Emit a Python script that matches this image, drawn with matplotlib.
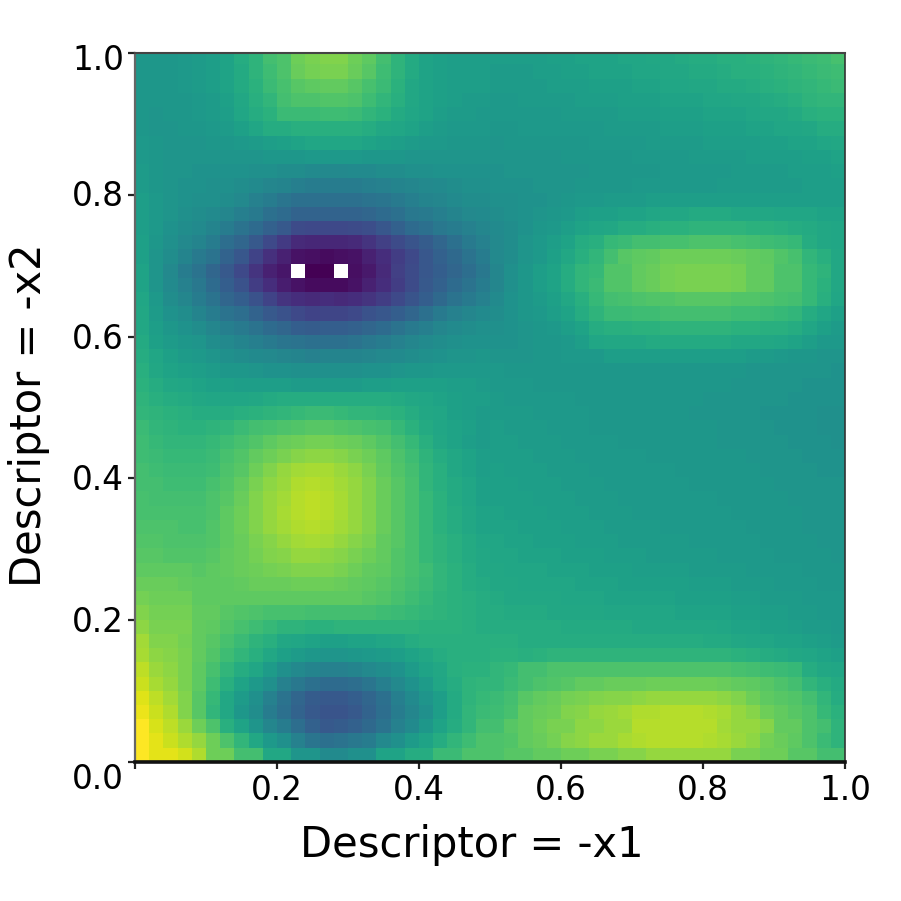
import numpy as np
import matplotlib
matplotlib.use("Agg")
import matplotlib.pyplot as plt
from matplotlib.transforms import ScaledTranslation

n = np.nan
row_00 = [53,53,53,54,55,56,58,62,65,70,72,78,80,81,81,78,75,70,65,61,58,57,56,56,56,56,56,56,56,57,57,58,58,58,59,59,60,60,61,62,62,63,63,64,65,66,67,68,69,71]
row_01 = [53,53,53,54,55,56,58,61,65,69,72,77,79,80,80,77,74,69,65,61,58,57,56,56,56,55,55,55,56,56,57,57,58,58,58,59,59,60,60,61,61,62,63,63,64,65,66,67,68,69]
row_02 = [53,53,53,54,55,56,58,61,64,68,71,74,75,76,76,74,71,68,64,60,58,57,56,56,56,55,55,55,55,56,56,56,57,57,57,58,58,59,59,60,60,61,61,62,63,64,65,66,67,68]
row_03 = [53,53,53,53,54,55,57,60,63,66,70,72,72,73,73,72,69,66,63,60,58,57,56,55,55,54,54,55,55,55,55,56,56,56,57,57,57,58,58,58,59,59,60,60,61,62,63,65,66,66]
row_04 = [53,52,53,53,54,55,56,59,62,64,68,68,68,69,69,68,66,64,61,59,58,56,55,55,54,54,54,54,54,54,55,55,55,55,56,56,56,57,57,57,58,58,58,59,60,60,61,63,64,64]
row_05 = [53,52,52,53,53,54,55,57,59,62,62,63,63,63,63,63,62,60,59,58,56,55,54,54,54,53,53,54,54,54,54,54,54,55,55,55,55,56,56,56,57,57,57,58,58,59,59,60,62,62]
row_06 = [54,53,52,52,52,53,53,54,55,56,57,58,59,59,59,59,58,57,56,55,54,54,53,53,53,52,53,53,53,53,53,53,54,54,54,54,55,55,55,55,56,56,56,56,57,57,58,58,59,60]
row_07 = [54,53,52,52,52,52,52,52,52,53,53,53,54,54,54,54,53,53,53,52,52,52,52,52,52,52,52,52,52,52,53,53,53,53,53,54,54,54,54,55,55,55,55,56,56,56,56,57,57,58]
row_08 = [55,53,52,52,51,51,51,51,50,50,49,49,48,47,47,48,48,49,49,50,50,51,51,51,51,51,52,52,52,52,52,52,53,53,53,53,53,54,54,54,54,54,55,55,55,55,56,56,56,57]
row_09 = [55,53,52,51,51,50,50,49,48,46,45,43,42,42,42,42,43,44,45,46,47,48,49,50,50,51,51,51,52,52,52,53,53,53,53,54,54,54,54,54,54,55,55,55,55,55,55,56,56,56]
row_10 = [56,54,52,51,50,50,49,47,44,42,39,37,37,37,37,37,38,39,41,43,45,46,48,49,49,50,50,51,51,52,53,54,54,55,55,55,56,56,56,56,56,56,56,56,56,56,56,56,56,56]
row_11 = [56,54,52,50,49,48,46,43,41,37,35,32,32,32,32,32,33,35,37,40,41,43,45,47,48,49,50,51,52,53,54,56,57,57,58,58,59,60,60,61,61,61,60,60,60,59,59,59,58,58]
row_12 = [56,54,51,49,48,45,42,38,35,31,28,23,22,22,22,23,24,27,31,35,37,40,42,44,46,48,49,51,53,54,56,58,59,60,62,62,63,64,64,65,65,65,65,64,64,63,62,61,60,59]
row_13 = [57,53,50,47,45,42,36,33,28,22,17,12,11,11,11,12,15,19,23,26,29,33,37,41,44,47,49,52,54,56,58,62,63,67,68,70,70,71,71,72,72,72,71,70,69,68,67,62,60,59]
row_14 = [57,52,49,45,41,38,32,27,20,14,9,5,4,3,4,5,9,13,18,22,27,31,34,38,42,47,49,52,54,57,60,63,66,70,74,75,76,78,78,78,78,78,77,76,75,73,71,66,63,60]
row_15 = [58,52,47,42,38,33,28,22,15,9,6,n,0,0,n,4,7,12,19,23,27,30,33,36,40,46,50,53,56,58,62,66,67,73,73,76,77,79,80,80,80,80,79,76,76,72,72,67,65,60]
row_16 = [58,52,48,44,40,35,30,25,18,13,8,5,3,3,3,5,9,13,18,23,28,31,35,38,42,46,50,53,56,58,62,66,68,73,73,76,77,79,80,80,80,80,79,76,76,72,72,67,64,60]
row_17 = [59,54,49,46,42,38,33,30,25,20,15,13,12,13,12,13,15,18,22,26,30,34,38,41,44,48,51,53,55,57,60,63,67,70,71,72,73,73,74,74,74,74,73,73,72,71,70,67,63,59]
row_18 = [60,55,51,49,45,42,38,36,32,28,25,22,20,21,21,22,25,27,30,33,37,41,44,46,48,49,51,53,54,56,58,62,65,68,68,69,69,70,70,70,70,70,69,69,68,67,66,62,59,57]
row_19 = [60,56,53,51,49,46,43,41,38,35,33,30,29,30,30,31,33,35,38,41,43,46,48,49,50,50,51,52,53,54,56,58,62,63,63,64,64,65,65,65,65,65,64,64,63,63,62,59,57,55]
row_20 = [61,57,55,53,52,49,47,45,43,41,39,38,37,37,37,38,40,42,44,46,48,49,50,51,51,51,51,52,53,53,54,56,59,60,60,60,61,61,61,61,61,61,60,60,60,59,58,56,54,54]
row_21 = [62,59,57,55,54,52,50,49,48,47,46,45,44,45,45,45,46,47,48,49,50,51,52,52,53,52,52,52,53,53,54,54,54,56,56,56,56,56,56,56,56,56,56,55,55,54,53,53,52,52]
row_22 = [63,60,58,57,56,55,53,53,52,51,51,50,50,50,50,50,51,51,52,53,53,54,54,54,54,54,53,53,53,53,53,53,53,53,53,53,53,53,53,53,53,53,53,52,52,52,52,52,52,51]
row_23 = [64,62,60,59,58,57,57,56,56,56,56,55,55,55,55,55,56,56,57,57,57,57,56,56,55,54,54,54,53,53,53,53,53,53,53,53,53,53,53,53,53,53,52,52,52,52,52,51,51,51]
row_24 = [65,63,62,61,60,59,59,59,60,61,62,62,62,62,62,62,62,62,61,60,59,58,57,56,56,55,54,54,54,54,54,53,53,53,53,53,53,53,53,53,52,52,52,52,52,52,51,51,51,51]
row_25 = [66,65,64,63,62,62,62,63,64,65,66,67,68,68,67,66,66,65,64,62,60,59,57,56,55,55,55,55,54,54,54,54,53,53,53,53,53,53,53,52,52,52,52,52,51,51,51,51,50,50]
row_26 = [68,66,65,64,64,65,66,68,70,71,72,73,74,74,73,72,71,70,67,64,61,59,58,57,55,56,55,55,55,54,54,54,53,53,53,53,53,53,53,53,53,52,52,52,52,51,51,51,50,50]
row_27 = [69,67,66,66,66,67,69,71,73,75,77,78,79,79,78,77,75,73,70,67,63,60,58,56,55,56,56,55,55,55,54,54,54,54,53,53,53,53,53,53,53,52,52,52,52,52,51,51,51,50]
row_28 = [69,68,67,67,67,68,71,73,76,78,80,82,83,83,82,80,78,75,72,69,65,62,60,58,56,56,56,56,55,55,55,54,54,54,54,54,53,53,53,53,53,53,53,52,52,52,52,51,51,51]
row_29 = [70,69,68,68,68,69,72,74,78,81,84,86,87,87,85,83,80,76,73,70,66,63,60,58,56,57,56,56,56,55,55,55,54,54,54,54,54,54,53,53,53,53,53,53,52,52,52,52,51,51]
row_30 = [70,70,69,69,69,71,73,76,80,83,85,88,89,88,86,84,81,77,74,71,66,63,61,59,57,57,57,56,56,56,55,55,55,54,54,54,54,54,54,53,53,53,53,53,53,52,52,52,52,52]
row_31 = [71,70,70,70,70,72,74,77,81,84,86,89,90,89,87,84,81,77,74,71,67,64,61,59,57,57,57,57,56,56,56,55,55,55,54,54,54,54,54,54,54,53,53,53,53,53,52,52,52,52]
row_32 = [71,71,71,71,71,72,75,78,81,84,87,89,90,89,87,84,81,77,74,71,67,64,62,60,58,58,57,57,57,56,56,56,55,55,55,54,54,54,54,54,54,54,53,53,53,53,53,52,52,52]
row_33 = [72,72,72,71,71,73,75,78,81,84,86,88,89,88,86,84,81,77,74,71,67,64,62,60,58,58,58,57,57,57,56,56,56,55,55,55,55,54,54,54,54,54,54,53,53,53,53,52,52,52]
row_34 = [73,73,72,72,72,73,75,77,80,82,84,86,87,86,84,82,80,76,74,71,67,65,63,61,59,59,58,58,57,57,57,56,56,56,55,55,55,55,55,54,54,54,54,54,53,53,53,53,52,52]
row_35 = [74,74,73,73,73,74,76,77,79,81,82,84,84,83,82,80,78,76,73,71,67,65,63,61,60,59,59,58,58,58,57,57,57,56,56,56,55,55,55,55,55,54,54,54,54,53,53,53,53,52]
row_36 = [75,75,75,75,74,75,76,77,78,79,80,81,81,81,80,78,76,75,73,71,69,66,64,62,60,60,59,59,59,58,58,58,57,57,57,56,56,56,56,55,55,55,55,54,54,54,54,53,53,53]
row_37 = [77,77,77,76,75,75,75,76,77,77,77,78,78,78,77,76,75,74,72,70,68,66,64,62,61,60,60,59,59,59,59,58,58,58,57,57,57,57,57,56,56,56,55,55,55,54,54,54,53,53]
row_38 = [79,78,78,78,75,75,75,75,75,75,75,75,75,75,75,75,74,73,71,69,67,65,64,63,62,61,60,60,60,60,59,59,59,58,58,58,58,58,57,57,57,57,56,56,55,55,55,54,54,54]
row_39 = [81,79,79,79,76,76,74,73,72,71,71,71,70,70,70,70,70,69,68,67,66,65,64,63,62,62,61,61,61,60,60,60,60,59,59,59,59,59,58,58,58,58,57,57,56,56,55,55,54,54]
row_40 = [83,80,80,80,76,75,73,71,69,67,65,65,64,64,65,65,65,65,65,65,64,64,64,63,62,62,62,62,62,62,61,61,61,61,61,60,60,60,60,60,60,59,58,58,57,57,56,55,55,54]
row_41 = [86,81,81,79,76,74,71,68,65,63,60,59,58,57,57,58,58,59,60,62,63,63,63,63,63,63,63,62,62,62,62,62,62,62,62,62,62,62,62,62,61,61,60,59,59,58,58,57,56,55]
row_42 = [87,83,82,80,76,73,69,66,63,60,57,55,53,52,52,53,54,55,56,58,60,62,63,63,63,64,64,63,64,65,65,65,65,65,65,65,65,65,65,65,65,65,64,63,62,61,60,59,58,57]
row_43 = [90,85,83,80,75,71,66,62,59,55,50,47,45,44,44,45,47,49,51,55,58,60,63,64,64,66,67,70,70,72,72,72,72,72,72,72,72,72,72,72,72,72,71,70,69,68,67,62,60,59]
row_44 = [92,87,84,80,75,69,63,58,54,50,44,40,37,35,35,36,39,43,47,51,55,59,62,65,66,66,68,70,72,73,74,76,76,77,77,77,78,78,78,78,78,77,76,75,74,72,70,66,63,61]
row_45 = [95,90,86,81,74,67,60,55,50,44,38,33,29,28,28,30,33,37,43,48,52,56,61,65,67,68,70,74,76,77,79,80,81,82,82,83,84,84,84,84,84,83,81,78,75,74,73,70,66,62]
row_46 = [97,92,88,81,74,66,60,53,49,42,37,32,28,26,26,28,32,36,42,46,50,56,61,66,68,69,71,76,77,78,81,82,84,85,86,88,88,89,89,89,88,87,84,82,78,76,74,72,67,64]
row_47 = [100,94,90,85,78,72,63,58,52,46,42,36,31,28,29,31,34,38,44,48,53,58,62,66,70,70,74,76,78,80,80,83,83,85,85,89,89,89,89,89,89,86,84,84,82,76,76,72,70,65]
row_48 = [100,96,92,88,84,78,72,66,60,54,50,44,39,37,38,40,42,47,50,55,58,62,66,69,72,72,73,76,77,79,82,83,85,85,87,88,89,89,89,89,88,87,85,83,79,77,75,72,68,65]
row_49 = [100,96,96,93,88,78,78,70,70,60,60,52,52,48,48,50,50,58,58,62,62,68,68,72,72,72,74,74,76,76,78,78,80,80,82,82,84,84,84,84,84,84,80,80,78,78,74,74,70,70]

rows = [row_00,row_01,row_02,row_03,row_04,row_05,row_06,row_07,row_08,row_09,
        row_10,row_11,row_12,row_13,row_14,row_15,row_16,row_17,row_18,row_19,
        row_20,row_21,row_22,row_23,row_24,row_25,row_26,row_27,row_28,row_29,
        row_30,row_31,row_32,row_33,row_34,row_35,row_36,row_37,row_38,row_39,
        row_40,row_41,row_42,row_43,row_44,row_45,row_46,row_47,row_48,row_49]

x_ticks = [0.0, 0.2, 0.4, 0.6, 0.8, 1.0]
x_labels = ["", "0.2", "0.4", "0.6", "0.8", "1.0"]
y_ticks = [0.0, 0.2, 0.4, 0.6, 0.8, 1.0]
y_labels = ["0.0", "0.2", "0.4", "0.6", "0.8", "1.0"]

W = 901
fig = plt.figure(figsize=(W / 100, W / 100), dpi=100)
ax = fig.add_axes([135 / W, 1 - 762 / W, 710 / W, 709 / W])
cmap = plt.get_cmap("viridis").copy()
cmap.set_bad("white")
ax.imshow(np.array(rows, dtype=float), cmap=cmap, vmin=0, vmax=100, origin="upper",
          extent=[0, 1, 0, 1.004], aspect="auto", interpolation="nearest")

ax.set_xlim(0, 1)
ax.set_ylim(0, 1)
ax.set_xticks(x_ticks, x_labels)
ax.set_yticks(y_ticks, y_labels)
ax.tick_params(axis="both", labelsize=23.5, length=5, width=1.6, color="#222222",
               labelcolor="black")
ax.tick_params(axis="x", pad=4)
ax.tick_params(axis="y", pad=3)
for lab, dy in zip(ax.get_yticklabels(), [-14, 1, 1, 1, 2, -4]):
    lab.set_transform(lab.get_transform() + ScaledTranslation(0, dy / 100, fig.dpi_scale_trans))

for side, lw, col in [("left", 1.6, "#666666"), ("right", 1.2, "#333333"),
                      ("top", 1.5, "#444444"), ("bottom", 2.6, "#111111")]:
    ax.spines[side].set_linewidth(lw)
    ax.spines[side].set_color(col)

fig.text(472 / W, 1 - 845 / W, "Descriptor = -x1", fontsize=30, ha="center", va="center")
fig.text(29 / W, 1 - 415 / W, "Descriptor = -x2", fontsize=30, ha="center", va="center", rotation=90)

fig.savefig("out.png", dpi=100, facecolor="white")
